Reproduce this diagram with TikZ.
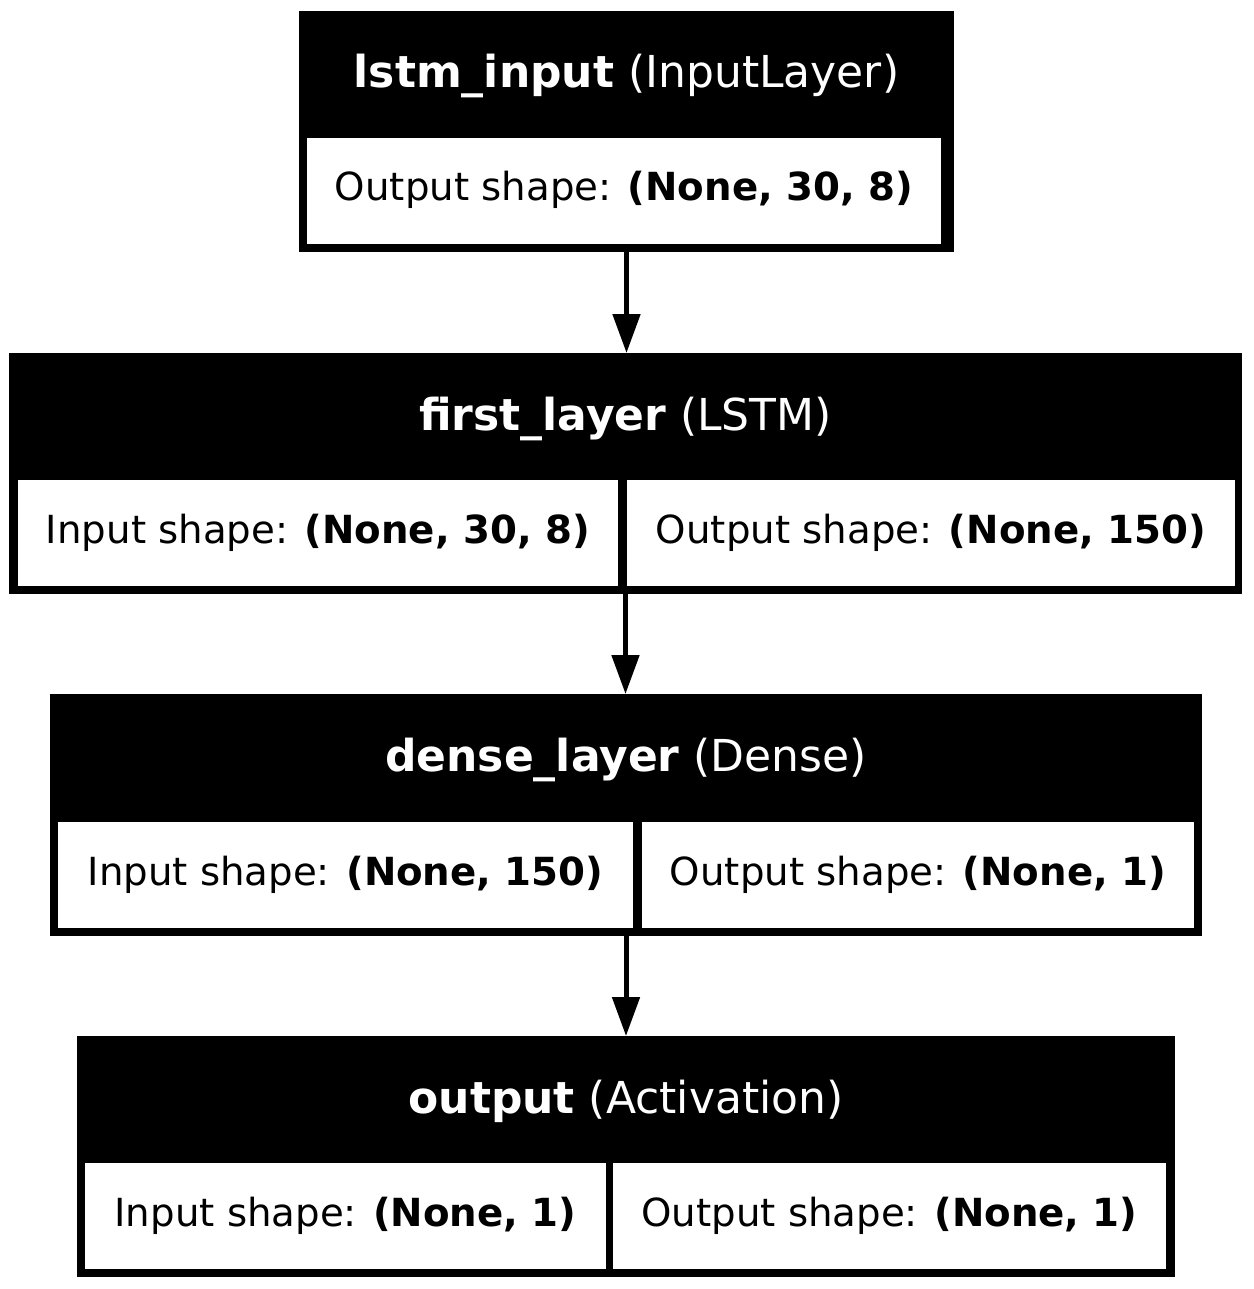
\documentclass[tikz,border=0pt]{standalone}
\usepackage{fontspec}
\setmainfont{DejaVu Sans}
\usetikzlibrary{arrows.meta}
\begin{document}
\begin{tikzpicture}[x=1pt,y=-1pt,
  layerbox/.style={fill=black, inner sep=0pt, outer sep=0pt},
  cellbox/.style={fill=white, inner sep=0pt, outer sep=0pt, minimum height=106pt},
  headtext/.style={inner sep=0pt, anchor=base, text=white, font=\fontsize{44}{52}\selectfont},
  celltext/.style={inner sep=0pt, anchor=base, text=black, font=\fontsize{38.7}{46}\selectfont},
  flow/.style={line width=5pt, -{Triangle[length=39pt,width=27pt]}}]
\fill[white] (0,0) rectangle (1253,1289);
\useasboundingbox (0,0) rectangle (1253,1289);

% lstm_input
\node[layerbox, minimum width=655pt, minimum height=241pt] (b1) at (626.5,131.5) {};
\node[cellbox, minimum width=634pt] (c1) at (624,191) {};
\node[headtext] (h1) at (626.5,88) {\textbf{lstm\_input} (InputLayer)};
\node[celltext] (t1) at (624,201) {Output shape: \textbf{(None, 30, 8)}};

% first_layer
\node[layerbox, minimum width=1233pt, minimum height=241pt] (b2) at (625.5,473.5) {};
\node[cellbox, minimum width=600pt] (c2a) at (318,533) {};
\node[cellbox, minimum width=608pt] (c2b) at (931,533) {};
\node[headtext] (h2) at (625.5,430) {\textbf{first\_layer} (LSTM)};
\node[celltext] (t2a) at (318,543) {Input shape: \textbf{(None, 30, 8)}};
\node[celltext] (t2b) at (931,543) {Output shape: \textbf{(None, 150)}};

% dense_layer
\node[layerbox, minimum width=1152pt, minimum height=242pt] (b3) at (626,815) {};
\node[cellbox, minimum width=575pt] (c3a) at (345.5,875) {};
\node[cellbox, minimum width=552pt] (c3b) at (918,875) {};
\node[headtext] (h3) at (626,771) {\textbf{dense\_layer} (Dense)};
\node[celltext] (t3a) at (345.5,885) {Input shape: \textbf{(None, 150)}};
\node[celltext] (t3b) at (918,885) {Output shape: \textbf{(None, 1)}};

% output
\node[layerbox, minimum width=1098pt, minimum height=241pt] (b4) at (626,1156.5) {};
\node[cellbox, minimum width=521pt] (c4a) at (345.5,1216) {};
\node[cellbox, minimum width=553pt] (c4b) at (889.5,1216) {};
\node[headtext] (h4) at (626,1113) {\textbf{output} (Activation)};
\node[celltext] (t4a) at (345.5,1226) {Input shape: \textbf{(None, 1)}};
\node[celltext] (t4b) at (889.5,1226) {Output shape: \textbf{(None, 1)}};

% connectors
\draw[flow] (b1.south) -- (b1.south |- b2.north);
\draw[flow] (b2.south) -- (b2.south |- b3.north);
\draw[flow] (b3.south) -- (b3.south |- b4.north);
\end{tikzpicture}
\end{document}
